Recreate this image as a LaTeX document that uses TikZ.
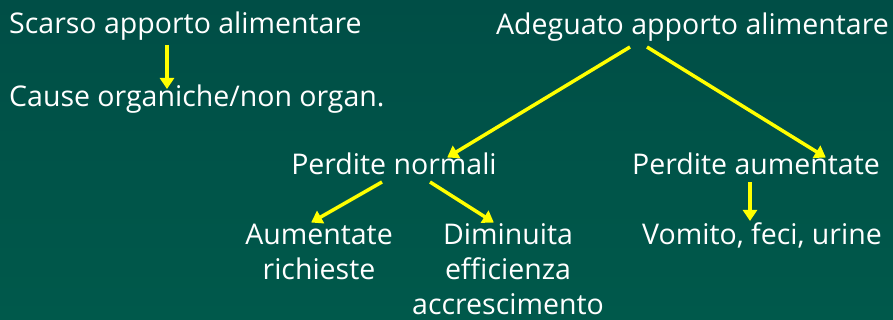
\documentclass[tikz,border=0pt]{standalone}
\usepackage{fontspec}
\setmainfont{Open Sans}
\usetikzlibrary{arrows.meta}
\definecolor{bgtop}{HTML}{004E46}
\definecolor{bgbot}{HTML}{00594B}
\definecolor{arr}{HTML}{FFFF00}
\tikzset{
  lbl/.style={text=white, font=\fontsize{28.5}{35}\selectfont, inner sep=0pt, align=center},
  conn/.style={draw=arr, line width=3.5pt, -{Triangle[length=11pt,width=14pt]}, shorten >=-1pt}
}
\begin{document}
\begin{tikzpicture}[x=1pt,y=-1pt]
\shade[top color=bgtop, bottom color=bgbot] (0,0) rectangle (893,320);
\useasboundingbox (0,0) rectangle (893,320);
\node[lbl, anchor=base west] (scarso) at (9,34) {Scarso apporto alimentare};
\node[lbl, anchor=base west] (cause) at (9,107) {Cause organiche/non organ.};
\node[lbl, anchor=base east] (adeg) at (889,35) {Adeguato apporto alimentare};
\node[lbl, anchor=base] (pnorm) at (394,175) {Perdite normali};
\node[lbl, anchor=base] (paum) at (756,175) {Perdite aumentate};
\node[lbl] (aum) at (319,252) {Aumentate\\richieste};
\node[lbl] (dim) at (508,269) {Diminuita\\efficienza\\accrescimento};
\node[lbl, anchor=base] (vom) at (762,244) {Vomito, feci, urine};
\coordinate (a1s) at (167,45); \coordinate (a1e) at (167,88);
\coordinate (a2s) at (630,47); \coordinate (a2e) at (448,157);
\coordinate (a3s) at (647,47); \coordinate (a3e) at (825,157);
\coordinate (a4s) at (382,182); \coordinate (a4e) at (312,222);
\coordinate (a5s) at (430,182); \coordinate (a5e) at (493,222);
\coordinate (a6s) at (750,182); \coordinate (a6e) at (750,220);
\draw[conn] (a1s) -- (a1e);
\draw[conn] (a2s) -- (a2e);
\draw[conn] (a3s) -- (a3e);
\draw[conn] (a4s) -- (a4e);
\draw[conn] (a5s) -- (a5e);
\draw[conn] (a6s) -- (a6e);
\end{tikzpicture}
\end{document}
